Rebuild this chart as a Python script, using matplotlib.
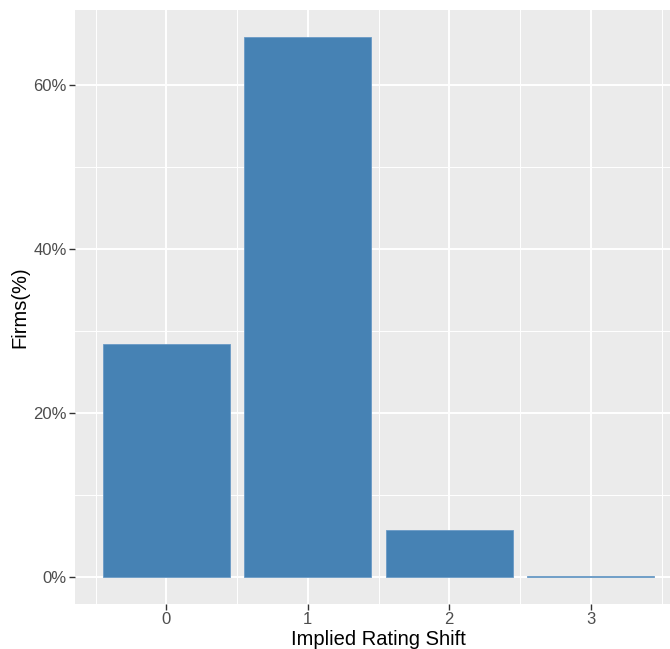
import numpy as np
import matplotlib.pyplot as plt
from matplotlib.ticker import FuncFormatter, MultipleLocator

plt.rcParams['font.family'] = ['Liberation Sans', 'DejaVu Sans']

## data
shifts = [0, 1, 2, 3]
firms_pct = [28.4, 65.9, 5.75, 0.1]

W, H = 670, 649
fig = plt.figure(figsize=(W/100, H/100), dpi=100)

# panel in pixels: left 75, top 10, bottom 604; right runs past the image edge
x0, x1 = -0.645, 3.645
y0, y1 = -3.3, 69.15
px_per_x = 141.5
left, top, bottom = 75, 10, 604
right = left + (x1 - x0)*px_per_x
ax = fig.add_axes([left/W, 1 - bottom/H, (right - left)/W, (bottom - top)/H])

ax.set_facecolor('#EBEBEB')
for s in ax.spines.values():
	s.set_visible(False)

ax.set_xlim(x0, x1)
ax.set_ylim(y0, y1)
ax.xaxis.set_major_locator(MultipleLocator(1))
ax.xaxis.set_minor_locator(MultipleLocator(0.5))
ax.yaxis.set_major_locator(MultipleLocator(20))
ax.yaxis.set_minor_locator(MultipleLocator(10))
ax.grid(which='major', color='white', linewidth=1.4)
ax.grid(which='minor', color='white', linewidth=0.7)
ax.set_axisbelow(True)

ax.bar(shifts, firms_pct, width=0.9, color='#4682B4', edgecolor='#6A9AC6', linewidth=0.6)

ax.yaxis.set_major_formatter(FuncFormatter(lambda v, p: '%d%%' % v))
ax.tick_params(which='major', length=4, width=1, color='#333333', labelcolor='#4D4D4D',
	labelsize=12, pad=2)
ax.tick_params(which='minor', length=0)

ax.set_xlabel('Implied Rating Shift', fontsize=14.5, color='black', labelpad=2)
ax.set_ylabel('Firms(%)', fontsize=14.5, color='black', labelpad=3)

fig.savefig('out.png', dpi=100)
